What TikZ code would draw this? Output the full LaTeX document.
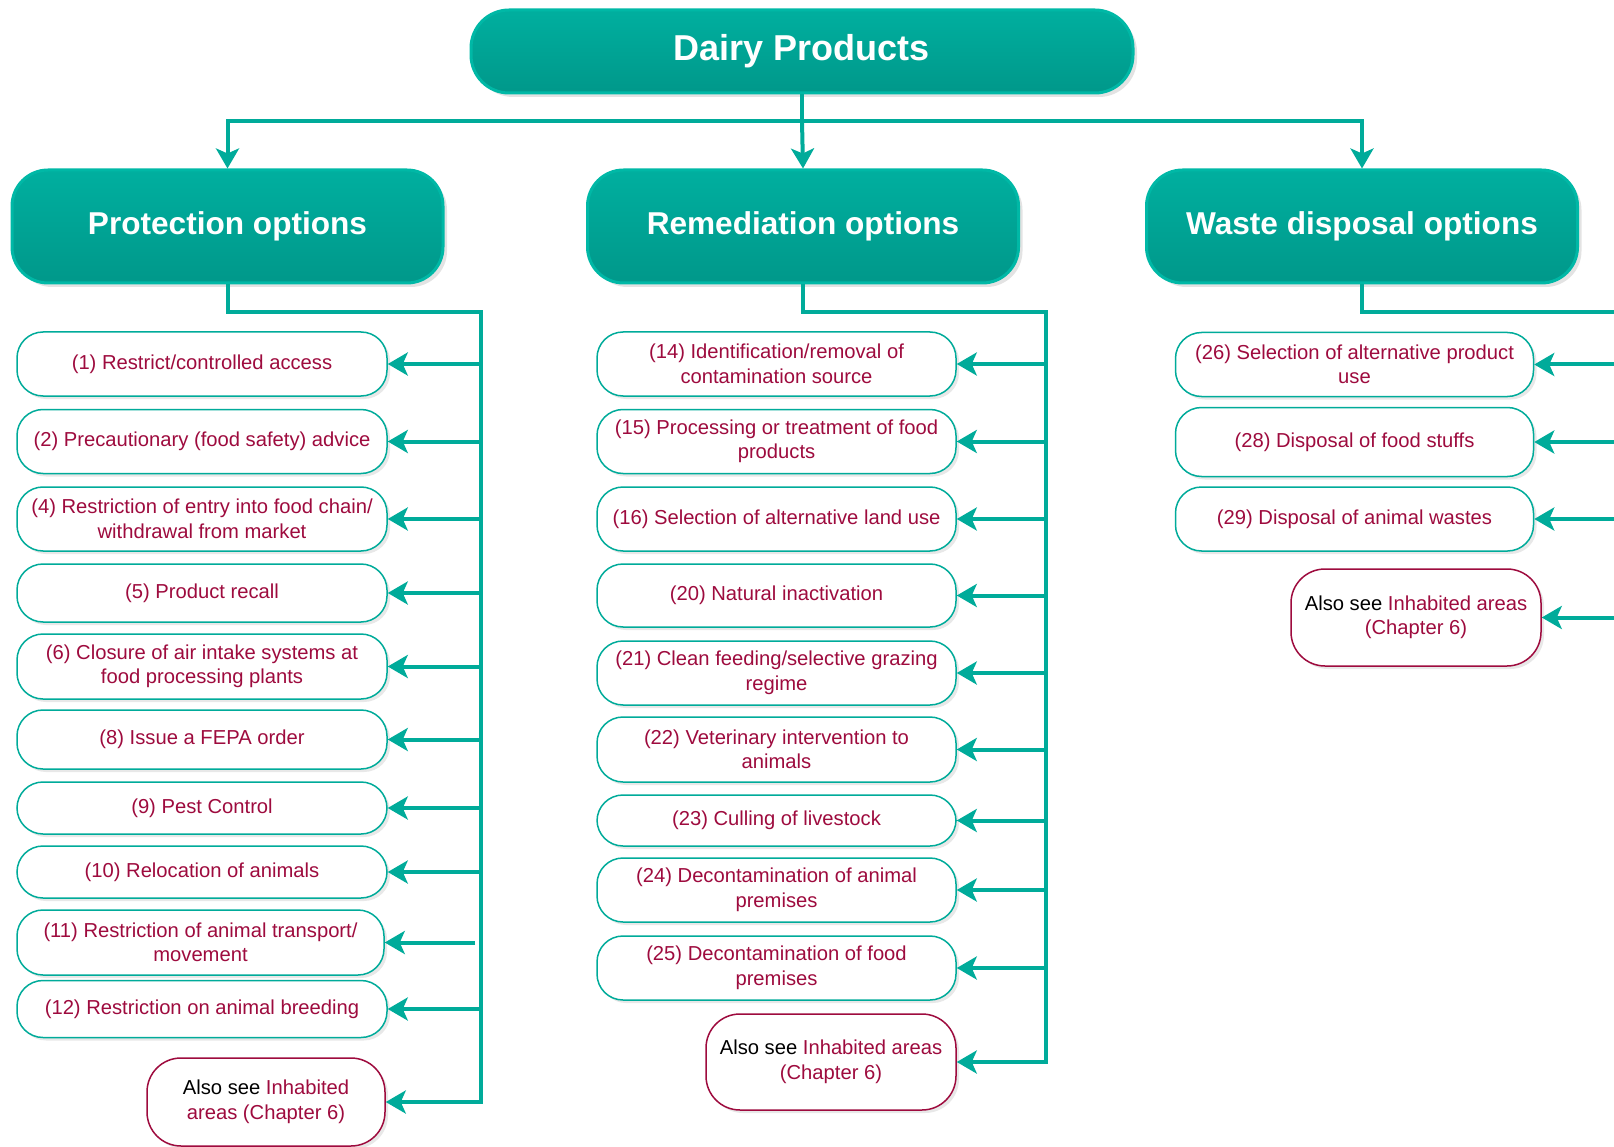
\documentclass[tikz,border=0pt]{standalone}
\usepackage{fontspec}
\setmainfont{Liberation Sans}
\usetikzlibrary{arrows.meta,shadows,shadings}
\definecolor{tealc}{RGB}{0,171,154}
\definecolor{tealtop}{RGB}{0,175,159}
\definecolor{tealbot}{RGB}{0,152,138}
\definecolor{tealedge}{RGB}{0,184,166}
\definecolor{crim}{RGB}{158,11,62}
\newcommand\fsopt{\fontsize{20.2}{24.5}\selectfont}
\newcommand\fshead{\bfseries\fontsize{31.6}{36}\selectfont}
\newcommand\fstitle{\bfseries\fontsize{36}{40}\selectfont}
\newcommand\alsosee[1]{{\color{black}Also see }#1}
\begin{document}
\begin{tikzpicture}[x=1pt,y=-1pt,
  optbox/.style={draw=tealc, line width=1.5pt, rounded corners=26pt, fill=white,
    text=crim, align=center, font=\fsopt, inner sep=0pt,
    drop shadow={shadow xshift=3pt,shadow yshift=-3pt,opacity=0.18}},
  alsobox/.style={optbox, draw=crim, rounded corners=34pt},
  headbox/.style={rounded corners=36pt, top color=tealtop, bottom color=tealbot,
    draw=tealedge, line width=3pt, text=white, font=\fshead, inner sep=0pt,
    minimum width=431pt, minimum height=113pt,
    drop shadow={shadow xshift=4pt,shadow yshift=-4pt,opacity=0.22}},
  titlebox/.style={headbox, font=\fstitle, minimum width=662pt, minimum height=83pt,
    rounded corners=38pt},
  bus/.style={draw=tealc, line width=4pt},
  arr/.style={draw=tealc, line width=4pt, -{Stealth[length=20pt,width=23pt,inset=5pt]}}
]
\useasboundingbox (0,0) rectangle (1614,1147);
\clip (0,0) rectangle (1614,1147);

% title and headers
\node[titlebox] (dairy) at (802,51.5) {Dairy Products};
\node[headbox] (prot) at (227.5,226.5) {Protection options};
\node[headbox] (rem) at (803,226.5) {Remediation options};
\node[headbox] (waste) at (1362,226.5) {Waste disposal options};

\coordinate (topbus) at (802,121);
\draw[bus] (dairy.south) -- (topbus);
\draw[arr] (topbus) -| (prot.north);
\draw[arr] (topbus) -- (rem.north);
\draw[arr] (topbus) -| (waste.north);

% protection options
\begin{scope}[optbox/.append style={minimum width=370pt}]
\node[optbox, minimum height=64pt] (p1) at (202,364) {(1) Restrict/controlled access};
\node[optbox, minimum height=64pt] (p2) at (202,441.5) {(2) Precautionary (food safety) advice};
\node[optbox, minimum height=64pt] (p4) at (202,519) {(4) Restriction of entry into food chain/\\withdrawal from market};
\node[optbox, minimum height=58pt] (p5) at (202,593) {(5) Product recall};
\node[optbox, minimum height=65pt] (p6) at (202,666.5) {(6) Closure of air intake systems at\\food processing plants};
\node[optbox, minimum height=59pt] (p8) at (202,739.5) {(8) Issue a FEPA order};
\node[optbox, minimum height=52pt] (p9) at (202,808) {(9) Pest Control};
\node[optbox, minimum height=52pt] (p10) at (202,872) {(10) Relocation of animals};
\node[optbox, minimum height=65pt, minimum width=367pt] (p11) at (200.5,942.5) {(11) Restriction of animal transport/\\movement};
\node[optbox, minimum height=57pt] (p12) at (202,1009) {(12) Restriction on animal breeding};
\end{scope}
\node[alsobox, minimum width=238pt, minimum height=88pt] (pa) at (266,1102) {\alsosee{Inhabited}\\areas (Chapter 6)};

\coordinate (pbt) at (481,312);
\coordinate (pbb) at (pa.east -| pbt);
\draw[arr] (prot.south) |- (pbt) -- (pbb) -- (pa.east);
\foreach \n in {p1,p2,p4,p5,p6,p8,p9,p10,p12}
  \draw[arr] (\n.east -| pbt) -- (\n.east);
\coordinate (p11s) at ([xshift=-6pt]p11.east -| pbt);
\draw[arr] (p11s) -- (p11.east);

% remediation options
\begin{scope}[optbox/.append style={minimum width=359pt}]
\node[optbox, minimum height=64pt] (m14) at (776.5,364) {(14) Identification/removal of\\contamination source};
\node[optbox, minimum height=64pt] (m15) at (776.5,441.5) {(15) Processing or treatment of food\\products};
\node[optbox, minimum height=64pt] (m16) at (776.5,519) {(16) Selection of alternative land use};
\node[optbox, minimum height=63pt] (m20) at (776.5,595.5) {(20) Natural inactivation};
\node[optbox, minimum height=64pt] (m21) at (776.5,673) {(21) Clean feeding/selective grazing\\regime};
\node[optbox, minimum height=65pt] (m22) at (776.5,749.5) {(22) Veterinary intervention to\\animals};
\node[optbox, minimum height=51pt] (m23) at (776.5,820.5) {(23) Culling of livestock};
\node[optbox, minimum height=64pt] (m24) at (776.5,890) {(24) Decontamination of animal\\premises};
\node[optbox, minimum height=64pt] (m25) at (776.5,968) {(25) Decontamination of food\\premises};
\end{scope}
\node[alsobox, minimum width=250pt, minimum height=96pt] (ma) at (831,1062) {\alsosee{Inhabited areas}\\(Chapter 6)};

\coordinate (mbt) at (1046,312);
\coordinate (mbb) at (ma.east -| mbt);
\draw[arr] (rem.south) |- (mbt) -- (mbb) -- (ma.east);
\foreach \n in {m14,m15,m16,m20,m21,m22,m23,m24,m25}
  \draw[arr] (\n.east -| mbt) -- (\n.east);

% waste disposal options
\begin{scope}[optbox/.append style={minimum width=358pt}]
\node[optbox, minimum height=64pt] (w26) at (1354.5,364.5) {(26) Selection of alternative product\\use};
\node[optbox, minimum height=69pt] (w28) at (1354.5,442) {(28) Disposal of food stuffs};
\node[optbox, minimum height=64pt] (w29) at (1354.5,519) {(29) Disposal of animal wastes};
\end{scope}
\node[alsobox, minimum width=250pt, minimum height=97pt] (wa) at (1416,617.5) {\alsosee{Inhabited areas}\\(Chapter 6)};

\coordinate (wbt) at (1630,312);
\coordinate (wbb) at (wa.east -| wbt);
\draw[bus] (waste.south) |- (wbt) -- (wbb);
\foreach \n in {w26,w28,w29,wa}
  \draw[arr] (\n.east -| wbt) -- (\n.east);
\end{tikzpicture}
\end{document}
